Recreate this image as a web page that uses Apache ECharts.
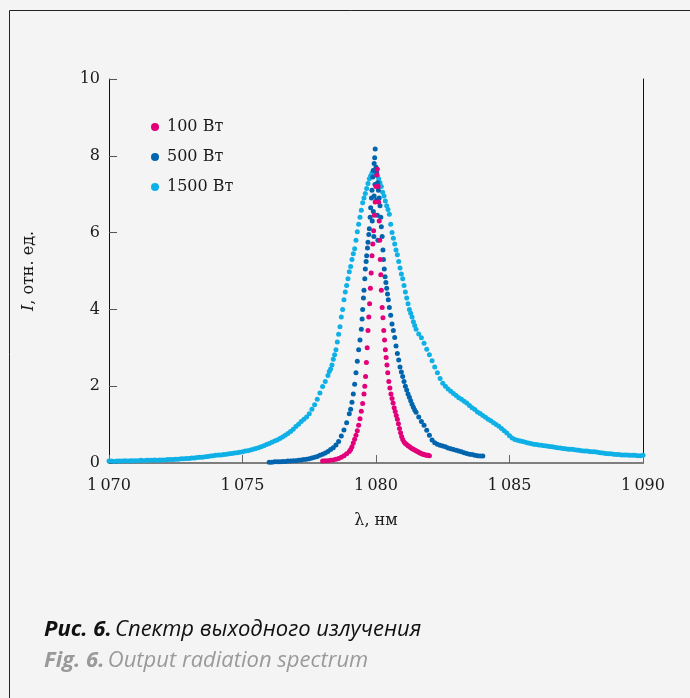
<!DOCTYPE html>
<html>
<head>
<meta charset="utf-8">
<script src="https://cdn.jsdelivr.net/npm/echarts@6/dist/echarts.min.js"></script>
<style>
  html, body { margin: 0; padding: 0; background: #f4f4f4; }
  #chart { width: 690px; height: 698px; }
</style>
</head>
<body>
<div id="chart"></div>
<script>
// подписи и шкалы
const xTickLabels = ['1\u2009070', '1\u2009075', '1\u2009080', '1\u2009085', '1\u2009090'];
const seriesNames = ['100 Вт', '500 Вт', '1500 Вт'];
const seriesColors = ['#e2007a', '#0065ae', '#0fb0e6'];

// 100 Вт: [λ, I]
const s100 = [
  [1078.0,0.05],[1078.1,0.06],[1078.2,0.06],[1078.3,0.07],[1078.4,0.08],[1078.5,0.10],[1078.6,0.12],[1078.7,0.15],[1078.8,0.19],[1078.9,0.24],
  [1079.0,0.30],[1079.05,0.35],[1079.10,0.42],[1079.15,0.52],[1079.20,0.62],[1079.25,0.72],[1079.30,0.84],[1079.35,0.98],[1079.40,1.15],[1079.45,1.35],
  [1079.50,1.55],[1079.55,1.80],[1079.58,2.00],[1079.61,2.25],[1079.64,2.62],[1079.67,3.00],[1079.70,3.45],[1079.73,3.80],[1079.76,4.15],[1079.79,4.55],
  [1079.82,4.95],[1079.85,5.40],[1079.88,5.70],[1079.91,6.05],[1079.94,6.45],[1079.97,6.80],[1080.00,7.20],[1080.03,7.50],[1080.05,7.65],
  [1080.08,7.20],[1080.10,6.80],[1080.12,6.30],[1080.14,5.80],[1080.16,5.30],[1080.18,4.90],[1080.20,4.50],[1080.23,4.05],[1080.26,3.78],[1080.29,3.45],
  [1080.32,3.20],[1080.35,2.95],[1080.38,2.75],[1080.41,2.55],[1080.44,2.35],[1080.48,2.12],[1080.52,1.95],[1080.56,1.80],[1080.60,1.68],[1080.64,1.56],
  [1080.68,1.44],[1080.72,1.34],[1080.76,1.24],[1080.80,1.14],[1080.84,1.02],[1080.88,0.90],[1080.92,0.79],[1080.96,0.69],[1081.00,0.61],[1081.05,0.55],
  [1081.10,0.51],[1081.15,0.48],[1081.20,0.45],[1081.25,0.43],[1081.30,0.40],[1081.35,0.38],[1081.40,0.36],[1081.45,0.34],[1081.50,0.32],[1081.55,0.30],
  [1081.60,0.28],[1081.65,0.26],[1081.70,0.25],[1081.75,0.23],[1081.80,0.22],[1081.85,0.21],[1081.90,0.20],[1081.95,0.20],[1082.00,0.19]
];

// 500 Вт
const s500 = [
  [1076.0,0.02],[1076.1,0.02],[1076.2,0.03],[1076.3,0.03],[1076.4,0.03],[1076.5,0.04],[1076.6,0.04],[1076.7,0.05],[1076.8,0.05],[1076.9,0.06],
  [1077.0,0.06],[1077.1,0.07],[1077.2,0.08],[1077.3,0.09],[1077.4,0.10],[1077.5,0.11],[1077.6,0.13],[1077.7,0.15],[1077.8,0.17],[1077.9,0.20],
  [1078.0,0.23],[1078.1,0.26],[1078.2,0.30],[1078.3,0.35],[1078.4,0.40],[1078.5,0.47],[1078.6,0.56],[1078.7,0.70],[1078.8,0.86],[1078.9,1.05],
  [1079.0,1.28],[1079.05,1.40],[1079.10,1.58],[1079.15,1.80],[1079.20,2.05],[1079.25,2.35],[1079.30,2.65],[1079.35,2.95],[1079.40,3.20],[1079.45,3.48],
  [1079.48,3.75],[1079.50,4.00],[1079.53,4.30],[1079.55,4.50],[1079.58,4.80],[1079.60,5.05],[1079.63,5.25],[1079.65,5.40],[1079.68,5.60],[1079.70,5.75],
  [1079.73,5.95],[1079.75,6.10],[1079.78,6.40],[1079.80,6.65],[1079.83,6.90],[1079.85,7.10],[1079.88,7.45],[1079.90,7.62],[1079.93,7.80],[1079.95,7.95],
  [1079.97,8.18],[1079.86,6.30],[1079.90,6.55],[1079.93,6.95],[1079.96,7.25],[1080.02,6.85],[1080.05,6.45],[1079.92,5.90],[1080.07,5.80],
  [1080.00,7.70],[1080.03,7.55],[1080.06,7.30],[1080.09,7.10],[1080.12,6.90],[1080.15,6.70],[1080.18,6.40],[1080.20,6.15],[1080.23,5.90],[1080.26,5.55],
  [1080.28,5.30],[1080.31,5.05],[1080.34,4.85],[1080.37,4.70],[1080.40,4.55],[1080.43,4.40],[1080.46,4.25],[1080.50,4.05],[1080.55,3.85],[1080.60,3.62],
  [1080.65,3.45],[1080.70,3.27],[1080.75,3.05],[1080.80,2.85],[1080.85,2.68],[1080.90,2.50],[1080.95,2.37],[1081.00,2.25],[1081.05,2.12],[1081.10,2.00],
  [1081.15,1.90],[1081.20,1.80],[1081.25,1.71],[1081.30,1.62],[1081.35,1.53],[1081.40,1.45],[1081.45,1.38],[1081.50,1.32],
  [1081.6,1.20],[1081.7,1.08],[1081.8,0.98],[1081.9,0.85],[1082.0,0.72],[1082.1,0.60],[1082.2,0.53],[1082.3,0.49],[1082.4,0.46],[1082.5,0.44],
  [1082.6,0.42],[1082.7,0.39],[1082.8,0.37],[1082.9,0.35],[1083.0,0.33],[1083.1,0.31],[1083.2,0.29],[1083.3,0.27],[1083.4,0.25],[1083.5,0.23],
  [1083.6,0.22],[1083.7,0.20],[1083.8,0.19],[1083.9,0.18],[1084.0,0.18]
];

// 1500 Вт
const s1500 = [
  [1070.0,0.05],[1070.1,0.05],[1070.2,0.04],[1070.3,0.05],[1070.4,0.05],[1070.5,0.05],[1070.6,0.06],[1070.7,0.05],[1070.8,0.06],[1070.9,0.06],
  [1071.0,0.06],[1071.1,0.06],[1071.2,0.07],[1071.3,0.06],[1071.4,0.07],[1071.5,0.07],[1071.6,0.07],[1071.7,0.08],[1071.8,0.07],[1071.9,0.08],
  [1072.0,0.08],[1072.1,0.08],[1072.2,0.09],[1072.3,0.09],[1072.4,0.09],[1072.5,0.10],[1072.6,0.10],[1072.7,0.11],[1072.8,0.11],[1072.9,0.12],
  [1073.0,0.12],[1073.1,0.13],[1073.2,0.13],[1073.3,0.14],[1073.4,0.15],[1073.5,0.15],[1073.6,0.16],[1073.7,0.17],[1073.8,0.18],[1073.9,0.19],
  [1074.0,0.20],[1074.1,0.21],[1074.2,0.21],[1074.3,0.22],[1074.4,0.23],[1074.5,0.24],[1074.6,0.25],[1074.7,0.26],[1074.8,0.27],[1074.9,0.28],
  [1075.0,0.29],[1075.1,0.31],[1075.2,0.32],[1075.3,0.34],[1075.4,0.36],[1075.5,0.38],[1075.6,0.40],[1075.7,0.42],[1075.8,0.45],[1075.9,0.48],
  [1076.0,0.51],[1076.1,0.54],[1076.2,0.57],[1076.3,0.60],[1076.4,0.64],[1076.5,0.68],[1076.6,0.72],[1076.7,0.77],[1076.8,0.82],[1076.9,0.88],
  [1077.0,0.95],[1077.1,1.01],[1077.2,1.08],[1077.3,1.14],[1077.4,1.20],[1077.5,1.28],[1077.6,1.40],[1077.7,1.52],[1077.8,1.66],[1077.9,1.82],
  [1078.0,1.99],[1078.1,2.12],[1078.2,2.28],
  [1078.25,2.38],[1078.30,2.45],[1078.35,2.55],[1078.40,2.70],[1078.45,2.82],[1078.50,2.95],[1078.55,3.15],[1078.60,3.35],[1078.65,3.55],[1078.70,3.80],
  [1078.75,4.00],[1078.80,4.25],[1078.85,4.45],[1078.90,4.62],[1078.95,4.80],[1079.00,4.98],[1079.05,5.12],[1079.10,5.30],[1079.15,5.45],[1079.20,5.58],
  [1079.25,5.80],[1079.30,6.02],[1079.35,6.22],[1079.40,6.40],[1079.45,6.58],[1079.50,6.78],[1079.55,6.90],[1079.60,7.02],[1079.65,7.15],[1079.70,7.28],
  [1079.75,7.40],[1079.80,7.48],[1079.85,7.55],[1079.90,7.62],[1079.95,7.60],[1080.00,7.55],[1080.05,7.48],[1080.10,7.40],[1080.15,7.30],[1080.20,7.20],
  [1080.25,7.05],[1080.30,6.95],[1080.35,6.82],[1080.40,6.70],[1080.45,6.60],[1080.50,6.48],[1080.55,6.22],[1080.60,6.00],[1080.65,5.85],[1080.70,5.70],
  [1080.75,5.55],[1080.80,5.42],[1080.85,5.25],[1080.90,5.08],[1080.95,4.92],[1081.00,4.80],[1081.05,4.62],[1081.10,4.45],[1081.15,4.30],[1081.20,4.15],
  [1081.25,4.00],[1081.30,3.90],[1081.35,3.80],[1081.40,3.68],[1081.45,3.58],[1081.50,3.48],
  [1081.6,3.36],[1081.7,3.26],[1081.8,3.12],[1081.9,2.96],[1082.0,2.82],[1082.1,2.66],[1082.2,2.50],[1082.3,2.35],[1082.4,2.20],[1082.5,2.08],
  [1082.6,2.00],[1082.7,1.93],[1082.8,1.87],[1082.9,1.81],[1083.0,1.76],[1083.1,1.70],[1083.2,1.66],[1083.3,1.61],[1083.4,1.56],[1083.5,1.50],
  [1083.6,1.44],[1083.7,1.39],[1083.8,1.33],[1083.9,1.29],[1084.0,1.24],[1084.1,1.19],[1084.2,1.14],[1084.3,1.10],[1084.4,1.05],[1084.5,1.00],
  [1084.6,0.96],[1084.7,0.90],[1084.8,0.84],[1084.9,0.78],[1085.0,0.71],[1085.1,0.65],[1085.2,0.61],[1085.3,0.59],[1085.4,0.57],[1085.5,0.56],
  [1085.6,0.54],[1085.7,0.52],[1085.8,0.51],[1085.9,0.49],[1086.0,0.48],[1086.1,0.47],[1086.2,0.46],[1086.3,0.45],[1086.4,0.44],[1086.5,0.43],
  [1086.6,0.42],[1086.7,0.41],[1086.8,0.40],[1086.9,0.39],[1087.0,0.38],[1087.1,0.37],[1087.2,0.36],[1087.3,0.36],[1087.4,0.35],[1087.5,0.34],
  [1087.6,0.33],[1087.7,0.32],[1087.8,0.31],[1087.9,0.31],[1088.0,0.30],[1088.1,0.29],[1088.2,0.29],[1088.3,0.28],[1088.4,0.27],[1088.5,0.26],
  [1088.6,0.25],[1088.7,0.24],[1088.8,0.24],[1088.9,0.23],[1089.0,0.22],[1089.1,0.22],[1089.2,0.21],[1089.3,0.21],[1089.4,0.21],[1089.5,0.20],
  [1089.6,0.20],[1089.7,0.20],[1089.8,0.19],[1089.9,0.19],[1090.0,0.20]
];

const serif = 'DejaVu Serif';
const sans = 'Open Sans';

const chart = echarts.init(document.getElementById('chart'));

const axisFont = { fontFamily: serif, fontSize: 16, color: '#1a1a1a' };

const option = {
  backgroundColor: '#f4f4f4',
  animation: false,
  grid: { left: 109, top: 79, right: 47, bottom: 235 },
  legend: {
    data: seriesNames,
    orient: 'vertical',
    left: 146,
    top: 113,
    icon: 'circle',
    itemWidth: 14,
    itemHeight: 8,
    itemGap: 12,
    textStyle: { fontFamily: serif, fontSize: 16, color: '#1a1a1a', lineHeight: 18 }
  },
  xAxis: [
    {
      type: 'value',
      min: 1070, max: 1090, interval: 5,
      name: 'λ, нм',
      nameLocation: 'middle',
      nameGap: 50,
      nameTextStyle: { fontFamily: serif, fontSize: 16, color: '#1a1a1a' },
      axisLine: { lineStyle: { color: '#777', width: 1.5 } },
      axisTick: { inside: true, length: 8, lineStyle: { color: '#666' } },
      axisLabel: {
        ...axisFont,
        margin: 15,
        formatter: v => xTickLabels[Math.round((v - 1070) / 5)]
      },
      splitLine: { show: false }
    },
    {
      type: 'value', position: 'top',
      min: 1070, max: 1090,
      axisLine: { show: true, lineStyle: { color: '#777', width: 1.5 } },
      axisTick: { show: false }, axisLabel: { show: false }, splitLine: { show: false }
    }
  ],
  yAxis: [
    {
      type: 'value',
      min: 0, max: 10, interval: 2,
      name: '{i|I}, отн. ед.',
      nameLocation: 'middle',
      nameGap: 72,
      nameTextStyle: {
        fontFamily: serif, fontSize: 16, color: '#1a1a1a',
        rich: { i: { fontFamily: serif, fontSize: 16, fontStyle: 'italic', color: '#1a1a1a' } }
      },
      axisLine: { show: true, lineStyle: { color: '#111', width: 1 } },
      axisTick: { show: true, inside: true, length: 8, lineStyle: { color: '#555' } },
      axisLabel: { ...axisFont, margin: 9 },
      splitLine: { show: false }
    },
    {
      type: 'value', position: 'right',
      min: 0, max: 10,
      axisLine: { show: true, lineStyle: { color: '#111', width: 1 } },
      axisTick: { show: false }, axisLabel: { show: false }, splitLine: { show: false }
    }
  ],
  series: [
    { name: seriesNames[2], type: 'scatter', data: s1500, symbolSize: 5, itemStyle: { color: seriesColors[2], opacity: 1 } },
    { name: seriesNames[1], type: 'scatter', data: s500, symbolSize: 5, itemStyle: { color: seriesColors[1], opacity: 1 } },
    { name: seriesNames[0], type: 'scatter', data: s100, symbolSize: 5, itemStyle: { color: seriesColors[0], opacity: 1 } }
  ],
  graphic: [
    {
      type: 'rect',
      shape: { x: 9.5, y: 10.5, width: 720, height: 720 },
      style: { fill: null, stroke: '#222', lineWidth: 1 },
      silent: true
    },
    {
      type: 'text',
      left: 44,
      top: 619,
      style: {
        text: '{b|Рис. 6.} {n|Спектр выходного излучения}',
        rich: {
          b: { fontFamily: sans, fontSize: 22, fontStyle: 'italic', fontWeight: 'bold', fill: '#111' },
          n: { fontFamily: sans, fontSize: 22, fontStyle: 'italic', fill: '#111' }
        }
      }
    },
    {
      type: 'text',
      left: 44,
      top: 650,
      style: {
        text: '{b|Fig. 6.} {n|Output radiation spectrum}',
        rich: {
          b: { fontFamily: sans, fontSize: 22, fontStyle: 'italic', fontWeight: 'bold', fill: '#9a9a9a' },
          n: { fontFamily: sans, fontSize: 22, fontStyle: 'italic', fill: '#9a9a9a' }
        }
      }
    }
  ]
};

chart.setOption(option);
</script>
</body>
</html>
